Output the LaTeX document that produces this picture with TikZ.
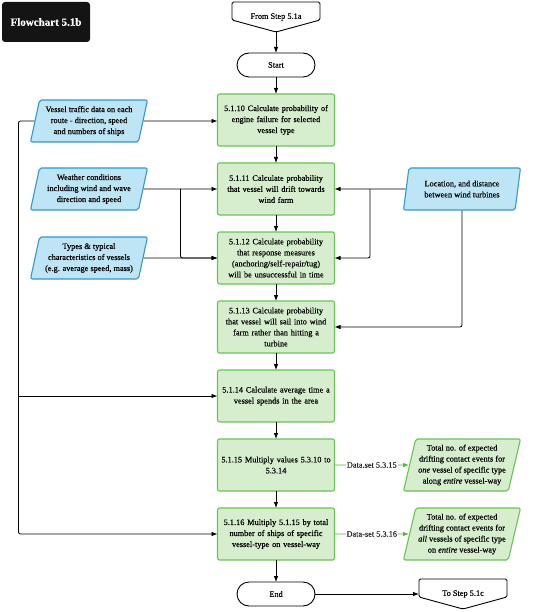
\documentclass[tikz,border=0pt]{standalone}
\usepackage{fontspec}
\setmainfont{Liberation Serif}[FakeBold=0.3]
\usetikzlibrary{arrows.meta,positioning,shapes.geometric,calc}
\definecolor{boxgreen}{RGB}{214,238,205}
\definecolor{edgegreen}{RGB}{104,196,84}
\definecolor{linkgreen}{RGB}{84,184,56}
\definecolor{boxblue}{RGB}{189,229,245}
\definecolor{edgeblue}{RGB}{52,152,209}

\begin{document}
\begin{tikzpicture}[x=1pt, y=-1pt, ->, >={Latex[length=6pt,width=4.5pt]}, line width=0.8pt, every node/.style={font=\fontsize{8.3}{11}\selectfont, align=center}, proc box/.style={draw=edgegreen, fill=boxgreen, line width=1.1pt, rounded corners=2pt, minimum width=117pt, minimum height=52pt, text width=114pt, inner sep=1pt, outer sep=0pt}, data in/.style={trapezium, trapezium left angle=74, trapezium right angle=106, trapezium stretches body, draw=edgeblue, fill=boxblue, line width=1.1pt, rounded corners=2pt, minimum width=117pt, minimum height=42pt, inner xsep=0pt, inner ysep=1pt}, data out/.style={data in, draw=edgegreen, fill=boxgreen, minimum height=52pt}, terminal/.style={draw, line width=0.9pt, rounded corners=12pt, minimum width=78pt, minimum height=24pt, outer sep=0pt}, offpage/.style={minimum width=88pt, minimum height=30pt, outer sep=0pt}, data link/.style={draw=linkgreen}, title box/.style={fill=black!92, text=white, rounded corners=3pt, minimum width=88pt, minimum height=40pt, font=\bfseries\fontsize{11}{13}\selectfont}]
\useasboundingbox (0,0) rectangle (550,612);

\node [title box] (title) at (46,22) {Flowchart 5.1b};
\node [offpage] (from) at (276,17) {From Step 5.1a};
\node [terminal] (start) at (276,65) {Start};
\node [proc box] (s10) at (276,120) {5.1.10 Calculate probability of\\engine failure for selected\\vessel type};
\node [proc box, below=17pt of s10] (s11) {5.1.11 Calculate probability\\that vessel will drift towards\\wind farm};
\node [proc box, below=17pt of s11] (s12) {5.1.12 Calculate probability\\that response measures\\(anchoring/self-repair/tug)\\will be unsuccessful in time};
\node [proc box, below=17pt of s12] (s13) {5.1.13 Calculate probability\\that vessel will sail into wind\\farm rather than hitting a\\turbine};
\node [proc box, below=17pt of s13] (s14) {5.1.14 Calculate average time a\\vessel spends in the area};
\node [proc box, below=17pt of s14] (s15) {5.1.15 Multiply values 5.3.10 to\\5.3.14};
\node [proc box, below=17pt of s15] (s16) {5.1.16 Multiply 5.1.15 by total\\number of ships of specific\\vessel-type on vessel-way};
\node [terminal, below=22pt of s16] (end) {End};
\node [offpage] (to) at (463,594) {To Step 5.1c};

\node [data in] (traffic) at (89,121) {Vessel traffic data on each\\route - direction, speed\\and numbers of ships};
\node [data in] (weather) at (89,189) {Weather conditions\\including wind and wave\\direction and speed};
\node [data in] (types) at (89,258) {Types \& typical\\characteristics of vessels\\(e.g. average speed, mass)};
\node [data in] (loc) at (462,189) {Location, and distance\\between wind turbines};
\node [data out] (out15) at (462,465) {Total no. of expected\\drifting contact events for\\\emph{one} vessel of specific type\\along \emph{entire} vessel-way};
\node [data out] (out16) at (462,534) {Total no. of expected\\drifting contact events for\\\emph{all} vessels of specific type\\on \emph{entire} vessel-way};

\foreach \n in {from,to}
  \draw [-, line width=0.9pt, rounded corners=1.5pt] ([yshift=12pt]\n.south west) -- (\n.north west) -- (\n.north east) -- ([yshift=12pt]\n.south east) -- (\n.south) -- cycle;

\foreach \a/\b in {from/start, start/s10, s10/s11, s11/s12, s12/s13, s13/s14, s14/s15, s15/s16, s16/end, end/to}
  \draw (\a) -- (\b);

\draw (traffic) -- (traffic -| s10.west);
\draw (weather) -- (s11);
\draw (types) -- (s12);
\draw (loc) -- (s11);

\coordinate (trunk) at ($(traffic.west)+(-16,0)$);
\coordinate (wsplit) at ($(weather.east)!0.5!(s11.west)$);
\coordinate (lsplit) at ($(loc.west)!0.5!(s11.east)$);
\draw [rounded corners=2pt] (traffic.west) -- (trunk) |- (s16.west);
\draw (trunk |- s14.west) -- (s14.west);
\draw [rounded corners=2pt] (wsplit) |- (s12.west);
\draw [rounded corners=2pt] (lsplit) |- (s12.east);
\draw [rounded corners=2pt] (loc.south) |- (s13.east);

\draw [data link] (s15) -- node [fill=white, inner sep=1pt, text=black!85] {Data.set 5.3.15} (out15);
\draw [data link] (s16) -- node [fill=white, inner sep=1pt, text=black!85] {Data-set 5.3.16} (out16);
\end{tikzpicture}
\end{document}
